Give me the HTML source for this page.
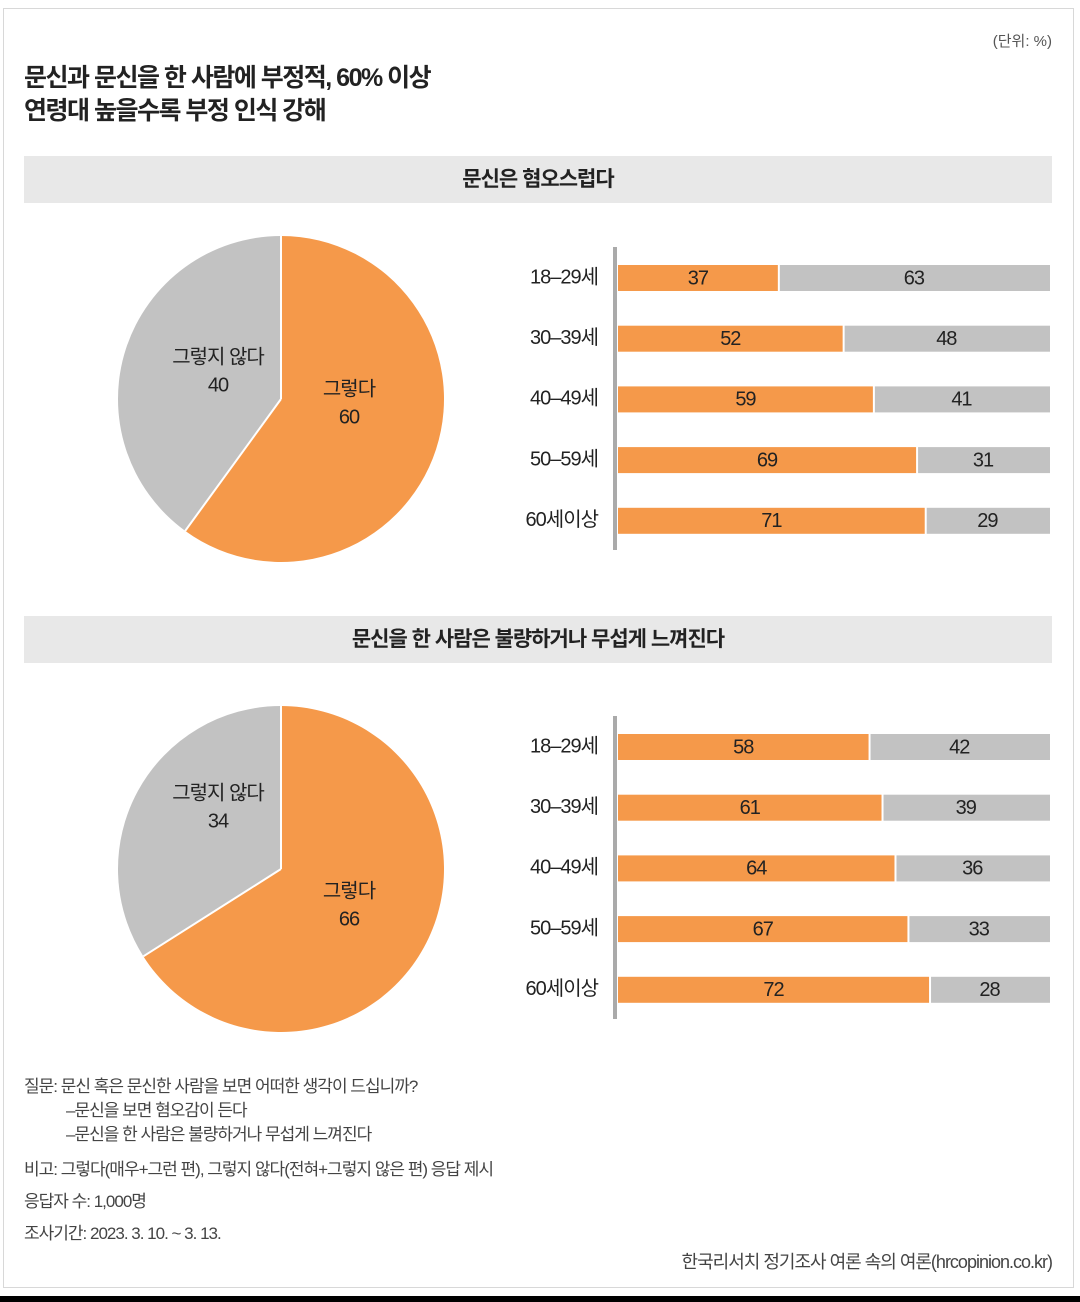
<!DOCTYPE html>
<html><head><meta charset="utf-8">
<style>
body{margin:0;width:1080px;height:1302px;background:#fff;position:relative;overflow:hidden;font-family:"Liberation Sans","Noto Sans CJK KR",sans-serif;color:#222}
.abs{position:absolute}
.frame{left:3px;top:8px;width:1069px;height:1278px;border:1px solid #d8d8d8}
.title{left:24px;font-size:25px;font-weight:bold;letter-spacing:-1.5px;color:#222}
.hdr{left:24px;width:1028px;height:47px;background:#e8e8e8;font-size:21px;font-weight:bold;text-align:center;line-height:47px;letter-spacing:-1px}
.note{left:24px;font-size:17px;color:#444;letter-spacing:-1px}
</style></head><body>
<div class="abs frame"></div>
<div class="abs" style="right:28px;top:30px;font-size:15px;color:#555">(단위: %)</div>
<div class="abs title" style="top:58px">문신과 문신을 한 사람에 부정적, 60% 이상</div>
<div class="abs title" style="top:91px">연령대 높을수록 부정 인식 강해</div>
<div class="abs hdr" style="top:156px">문신은 혐오스럽다</div>
<div class="abs hdr" style="top:616px">문신을 한 사람은 불량하거나 무섭게 느껴진다</div>
<svg class="abs" style="left:0;top:0" width="1080" height="1302" id="chart"></svg>
<div class="abs note" style="top:1075px;line-height:24px">질문: 문신 혹은 문신한 사람을 보면 어떠한 생각이 드십니까?<br><span style="padding-left:42px">–문신을 보면 혐오감이 든다</span><br><span style="padding-left:42px">–문신을 한 사람은 불량하거나 무섭게 느껴진다</span></div>
<div class="abs note" style="top:1155px">비고: 그렇다(매우+그런 편), 그렇지 않다(전혀+그렇지 않은 편) 응답 제시</div>
<div class="abs note" style="top:1187px">응답자 수: 1,000명</div>
<div class="abs note" style="top:1219px">조사기간: 2023. 3. 10. ~ 3. 13.</div>
<div class="abs note" style="left:auto;right:28px;top:1248px;font-size:18px">한국리서치 정기조사 여론 속의 여론(hrcopinion.co.kr)</div>
<div class="abs" style="left:0;top:1296px;width:1080px;height:6px;background:#000"></div>
<script>
const ageGroups=["18–29세","30–39세","40–49세","50–59세","60세이상"];
const yes1=[37,52,59,69,71];
const no1=[63,48,41,31,29];
const yes2=[58,61,64,67,72];
const no2=[42,39,36,33,28];
const pieYes=[60,66];
const pieNo=[40,34];
const ORANGE="#f5994a",GRAY="#c2c2c2";
const svg=document.getElementById('chart');
const NS="http://www.w3.org/2000/svg";
function mk(tag,attrs,parent){const e=document.createElementNS(NS,tag);for(const k in attrs)e.setAttribute(k,attrs[k]);(parent||svg).appendChild(e);return e;}
function txt(x,y,s,anchor,size){const t=mk('text',{x:x,y:y,'text-anchor':anchor||'middle','font-size':size||19,'fill':'#222','letter-spacing':'-1','font-family':'"Liberation Sans","Noto Sans CJK KR",sans-serif','dominant-baseline':'middle'});t.textContent=s;return t;}
const x0=618,x1=1050;
const xs=v=>x0+(x1-x0)*v/100;
function bars(yes,no,top,idx){
  const axis=mk('line',{x1:615,x2:615,y1:top,y2:top+303,stroke:'#aaa','stroke-width':4});
  
  
  ageGroups.forEach((g,i)=>{
    const cy=top+31+i*60.7;
    const l=txt(598,cy,g,'end',20);
    
    
    const t=yes[i]+no[i];
    const r1=mk('rect',{x:x0,y:cy-13,width:xs(yes[i]*100/t)-x0,height:26,fill:ORANGE});
    
    
    const r2=mk('rect',{x:xs(yes[i]*100/t)+2,y:cy-13,width:x1-xs(yes[i]*100/t)-2,height:26,fill:GRAY});
    
    
    const a=txt((x0+xs(yes[i]*100/t))/2,cy+1,String(yes[i]),'middle',20);
    
    
    const b=txt((xs(yes[i]*100/t)+x1)/2,cy+1,String(no[i]),'middle',20);
    
    
  });
}
function pie(yes,no,cx,cy,r,idx,yo,no_){
  const t=yes+no,f=yes/t;
  const ang=f*2*Math.PI;
  const ex=cx+r*Math.sin(ang),ey=cy-r*Math.cos(ang);
  const big=f>0.5?1:0;
  const p1=mk('path',{d:`M${cx},${cy} L${cx},${cy-r} A${r},${r} 0 ${big} 1 ${ex},${ey} Z`,fill:ORANGE});
  
  
  const p2=mk('path',{d:`M${cx},${cy} L${ex},${ey} A${r},${r} 0 ${1-big} 1 ${cx},${cy-r} Z`,fill:GRAY});
  
  
  mk('line',{x1:cx,y1:cy,x2:cx,y2:cy-r,stroke:'#fff','stroke-width':2});
  mk('line',{x1:cx,y1:cy,x2:ex,y2:ey,stroke:'#fff','stroke-width':2});
  const ry=cx+yo[0], yy=cy+yo[1];
  const a1=txt(ry,yy-14,'그렇다','middle',20);
  const a2=txt(ry,yy+14,String(yes),'middle',20);
  const nx=cx+no_[0], ny=cy+no_[1];
  const b1=txt(nx,ny-14,'그렇지 않다','middle',20);
  const b2=txt(nx,ny+14,String(no),'middle',20);
}
pie(pieYes[0],pieNo[0],281,399,163,1,[68,5],[-63,-27]);
pie(pieYes[1],pieNo[1],281,869,163,2,[68,37],[-63,-61]);
bars(yes1,no1,247,1);
bars(yes2,no2,716,2);
</script>
</body></html>
